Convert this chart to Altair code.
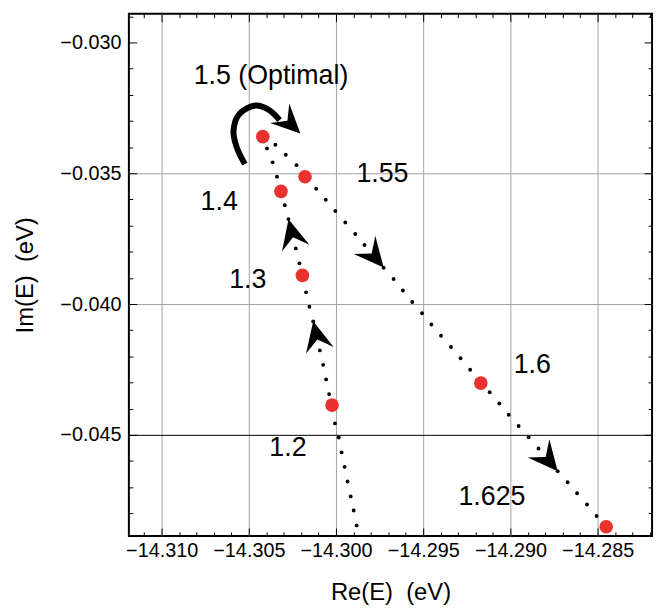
import math
import altair as alt
import pandas as pd

# ---------------- data ----------------
# dotted trajectory, branch going up (1.2 -> 1.5)
up_re = [-14.29882, -14.29899, -14.29916, -14.29934, -14.29951, -14.29968, -14.29985,
         -14.30006, -14.30040, -14.30057, -14.30074, -14.30093, -14.30131, -14.30153,
         -14.30172, -14.30210, -14.30231, -14.30273, -14.30294, -14.30339, -14.30364,
         -14.30396]
up_im = [-0.04846, -0.04789, -0.04735, -0.04678, -0.04622, -0.04567, -0.04510,
         -0.04456, -0.04344, -0.04288, -0.04232, -0.04177, -0.04066, -0.04010,
         -0.03955, -0.03844, -0.03787, -0.03675, -0.03622, -0.03513, -0.03458,
         -0.03405]

# dotted trajectory, branch going down (1.5 -> 1.625)
down_re = [-14.30348, -14.30288, -14.30227, -14.30114, -14.30059, -14.30004, -14.29947,
           -14.29890, -14.29837, -14.29727, -14.29670, -14.29617, -14.29563, -14.29507,
           -14.29453, -14.29398, -14.29341, -14.29286, -14.29231, -14.29119, -14.29064,
           -14.29010, -14.28953, -14.28896, -14.28839, -14.28729, -14.28672, -14.28618,
           -14.28561, -14.28506]
down_im = [-0.03391, -0.03429, -0.03469, -0.03559, -0.03601, -0.03644, -0.03688,
           -0.03732, -0.03774, -0.03861, -0.03904, -0.03948, -0.03992, -0.04035,
           -0.04078, -0.04121, -0.04164, -0.04207, -0.04251, -0.04337, -0.04380,
           -0.04423, -0.04466, -0.04509, -0.04552, -0.04639, -0.04681, -0.04723,
           -0.04766, -0.04810]

# highlighted (red) points
red_param = ["1.2", "1.3", "1.4", "1.5", "1.55", "1.6", "1.625"]
red_re = [-14.30023, -14.30193, -14.30316, -14.30420, -14.30178, -14.29170, -14.28451]
red_im = [-0.04386, -0.03890, -0.03569, -0.03360, -0.03513, -0.04302, -0.04851]

# annotation texts
label_text = ["1.5 (Optimal)", "1.55", "1.4", "1.3", "1.2", "1.6", "1.625"]
label_re = [-14.30373, -14.29734, -14.30670, -14.30506, -14.30276, -14.28875, -14.29106]
label_im = [-0.03128, -0.03503, -0.03609, -0.03908, -0.04552, -0.04232, -0.04738]

# arrowheads along the trajectory
arrow_re = [-14.30252, -14.30112, -14.29782, -14.28784]
arrow_im = [-0.03731, -0.04121, -0.03817, -0.04595]
arrow_branch = ["up", "up", "down", "down"]

# curved arrow near the optimum
arc_re = [-14.30523, -14.30571, -14.30588, -14.30554, -14.30463, -14.30384, -14.30324]
arc_im = [-0.03465, -0.03398, -0.03337, -0.03273, -0.03241, -0.03258, -0.03297]
arc_head_re = [-14.30264]
arc_head_im = [-0.03309]

# axes
x_major = [-14.310, -14.305, -14.300, -14.295, -14.290, -14.285]
x_minor = [-14.311, -14.309, -14.308, -14.307, -14.306, -14.304, -14.303, -14.302,
           -14.301, -14.299, -14.298, -14.297, -14.296, -14.294, -14.293, -14.292,
           -14.291, -14.289, -14.288, -14.287, -14.286, -14.284, -14.283, -14.282]
y_major = [-0.045, -0.040, -0.035, -0.030]
y_minor = [-0.048, -0.047, -0.046, -0.044, -0.043, -0.042, -0.041, -0.039, -0.038,
           -0.037, -0.036, -0.034, -0.033, -0.032, -0.031, -0.029]
X_DOMAIN = [-14.31188, -14.28188]
Y_DOMAIN = [-0.04886, -0.02890]

# ---------------- styling ----------------
W, H = 528, 527
FONT = "Liberation Sans"
RED = "#E9322E"
GRID = "#a3a3a3"
ARROW = "M0,-1 L0.95,1 L0,0.25 L-0.95,1 Z"

xs = alt.Scale(domain=X_DOMAIN, nice=False, zero=False)
ys = alt.Scale(domain=Y_DOMAIN, nice=False, zero=False)

major_test = "abs(datum.value*200 - round(datum.value*200)) < 0.01"
tick_size = {"condition": {"test": major_test, "value": 8}, "value": 4}


def tick_axis(orient, offset, values):
    return alt.Axis(orient=orient, offset=offset, values=values, ticks=True,
                    tickSize=tick_size, tickColor="black", tickWidth=1,
                    labels=False, domain=False, grid=False, title=None)


x_all = sorted(x_major + x_minor)
y_all = sorted(y_major + y_minor)

x_label_axis = alt.Axis(orient="bottom", values=x_major, format=".3f", ticks=False,
                        domain=False, labelPadding=5, labelFontSize=20,
                        title="Re(E)\u00a0 (eV)", titleFontSize=24, titlePadding=20,
                        grid=True, gridColor=GRID, gridWidth=1)
y_label_axis = alt.Axis(orient="left", values=y_major, format=".3f", ticks=False,
                        domain=False, labelPadding=8, labelFontSize=20,
                        title="Im(E)\u00a0 (eV)", titleFontSize=24, titlePadding=23,
                        grid=True, gridWidth=1,
                        gridColor={"condition": {"test": "abs(datum.value + 0.045) < 1e-6",
                                                 "value": "black"}, "value": GRID},
                        gridOpacity={"condition": {"test": "abs(datum.value + 0.030) < 1e-6",
                                                   "value": 0}, "value": 1})

# ---------------- derived: arrow headings (pixel space) ----------------
kx = W / (X_DOMAIN[1] - X_DOMAIN[0])
ky = H / (Y_DOMAIN[1] - Y_DOMAIN[0])


def heading(a, b):
    dx = (b[0] - a[0]) * kx
    dy = (b[1] - a[1]) * ky
    return math.degrees(math.atan2(dx, dy)) % 360


branches = {"up": list(zip(up_re, up_im)), "down": list(zip(down_re, down_im))}
arrow_angle = []
for r, i, br in zip(arrow_re, arrow_im, arrow_branch):
    pts = branches[br]
    d = [((p[0] - r) * kx) ** 2 + ((p[1] - i) * ky) ** 2 for p in pts]
    j, k = sorted(sorted(range(len(pts)), key=lambda n: d[n])[:2])
    arrow_angle.append(heading(pts[j], pts[k]))
arc_angle = heading((arc_re[-2], arc_im[-2]), (arc_re[-1], arc_im[-1]))

df_up = pd.DataFrame({"re": up_re, "im": up_im})
df_down = pd.DataFrame({"re": down_re, "im": down_im})
df_red = pd.DataFrame({"re": red_re, "im": red_im, "param": red_param})
df_lab = pd.DataFrame({"re": label_re, "im": label_im, "text": label_text})
df_arrow = pd.DataFrame({"re": arrow_re, "im": arrow_im, "angle": arrow_angle})
df_arc = pd.DataFrame({"re": arc_re, "im": arc_im, "i": list(range(len(arc_re)))})
df_head = pd.DataFrame({"re": arc_head_re, "im": arc_head_im, "angle": [arc_angle]})

dots_up = alt.Chart(df_up).mark_circle(size=15, color="black", opacity=1).encode(
    x=alt.X("re:Q", scale=xs, axis=x_label_axis),
    y=alt.Y("im:Q", scale=ys, axis=y_label_axis),
)
dots_down = alt.Chart(df_down).mark_circle(size=15, color="black", opacity=1).encode(
    x=alt.X("re:Q", scale=xs, axis=tick_axis("bottom", -H, x_all)),
    y=alt.Y("im:Q", scale=ys, axis=tick_axis("right", -W, y_all)),
)
arrows = alt.Chart(df_arrow).mark_point(shape=ARROW, filled=True, color="black",
                                        opacity=1, size=900, strokeWidth=0).encode(
    x=alt.X("re:Q", scale=xs, axis=tick_axis("top", -H, x_all)),
    y=alt.Y("im:Q", scale=ys, axis=tick_axis("left", -W, y_all)),
    angle=alt.Angle("angle:Q", scale=None),
)
arc = alt.Chart(df_arc).mark_line(color="black", strokeWidth=6, interpolate="catmull-rom",
                                  strokeCap="butt").encode(
    x=alt.X("re:Q", scale=xs, axis=None),
    y=alt.Y("im:Q", scale=ys, axis=None),
    order=alt.Order("i:Q"),
)
arc_head = alt.Chart(df_head).mark_point(shape=ARROW, filled=True, color="black",
                                         opacity=1, size=850, strokeWidth=0).encode(
    x=alt.X("re:Q", scale=xs, axis=None),
    y=alt.Y("im:Q", scale=ys, axis=None),
    angle=alt.Angle("angle:Q", scale=None),
)
red = alt.Chart(df_red).mark_circle(size=190, color=RED, opacity=1).encode(
    x=alt.X("re:Q", scale=xs, axis=None),
    y=alt.Y("im:Q", scale=ys, axis=None),
    tooltip=["param:N"],
)
labels = alt.Chart(df_lab).mark_text(font=FONT, fontSize=27, color="black",
                                     align="center", baseline="middle").encode(
    x=alt.X("re:Q", scale=xs, axis=None),
    y=alt.Y("im:Q", scale=ys, axis=None),
    text="text:N",
)

chart = (
    alt.layer(dots_up, dots_down, arrows, arc, arc_head, red, labels)
    .resolve_axis(x="independent", y="independent")
    .properties(width=W, height=H,
                padding={"left": 5, "top": 2, "right": 5, "bottom": 2})
    .configure_view(stroke="black", strokeWidth=2)
    .configure_axis(labelFont=FONT, titleFont=FONT, labelColor="black",
                    titleColor="black", titleFontWeight="normal")
)

chart.save("out.html", embed_options={"renderer": "svg", "actions": False})
